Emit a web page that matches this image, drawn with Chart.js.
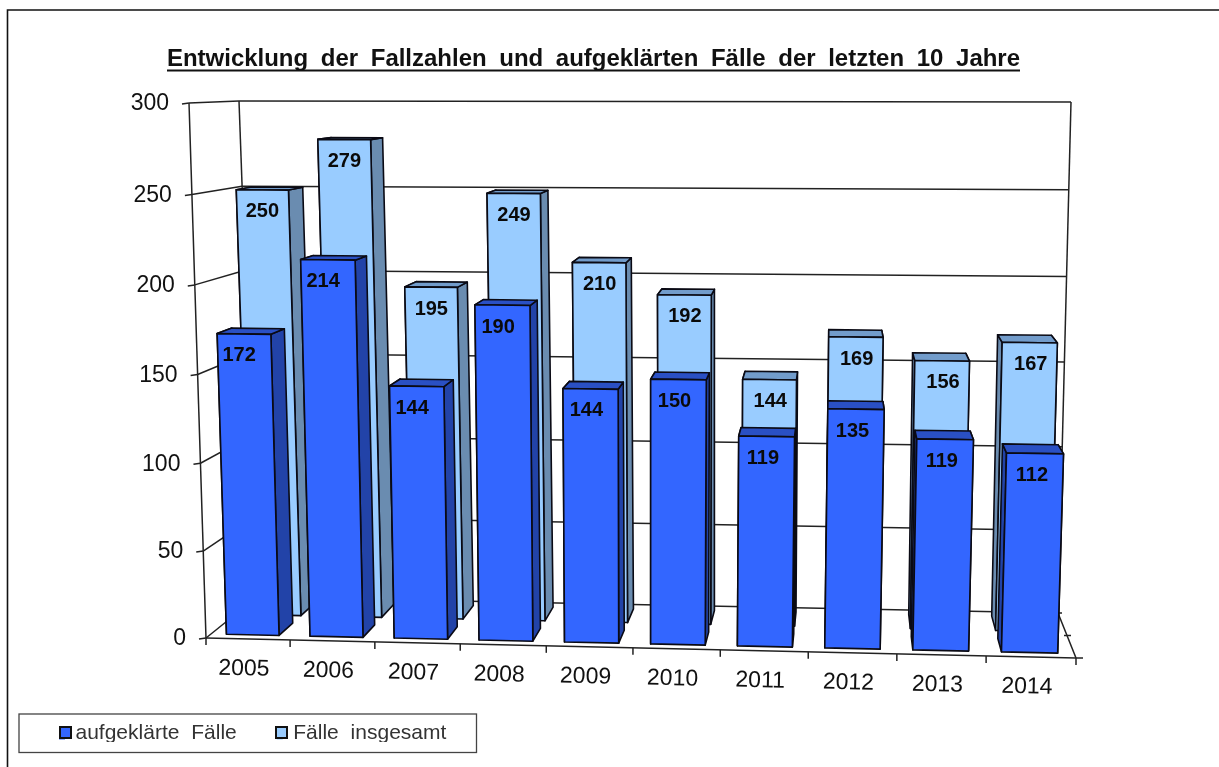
<!DOCTYPE html>
<html lang="de">
<head>
<meta charset="utf-8">
<style>html,body{margin:0;padding:0;background:#fff}canvas{display:block}</style>
<script src="https://cdn.jsdelivr.net/npm/chart.js@4"></script>
</head>
<body>
<div style="width:1219px;height:767px;position:relative"><canvas id="c"></canvas></div>
<script>
const categories = ['2005','2006','2007','2008','2009','2010','2011','2012','2013','2014'];
const solvedCases = [172,214,144,190,144,150,119,135,119,112];
const totalCases = [250,279,195,249,210,192,144,169,156,167];
const titleText = 'Entwicklung der Fallzahlen und aufgeklärten Fälle der letzten 10 Jahre';
const seriesNames = ['aufgeklärte Fälle','Fälle insgesamt'];

// 3D box of the plot: corners of the front and back plane on the page
const box = {
  fbl:[206,638], fbr:[1076,658], ftl:[189,103], ftr:[1093,110],
  bbl:[257,597], bbr:[1058,613], btl:[239,101], btr:[1071,102]
};
const depthOf = [[0.10,0.40],[0.58,0.90]];
const labelShift = [[-5,2],[0,1]];
const faces = [
  {face:'#3366FF', side:'#2243A8', top:'#2A50C4'},
  {face:'#99CCFF', side:'#6A8CB0', top:'#729CCB'}
];
const mix=(a,b,t)=>a+(b-a)*t;
const mix2=(p,q,t)=>[mix(p[0],q[0],t),mix(p[1],q[1],t)];
function project(u0,v,w){
  const u=u0-0.037*u0*(1-u0);
  const vf=v-0.03*v*(1-v), vb=v-0.036*v*(1-v);
  const f=mix2(mix2(box.fbl,box.fbr,u),mix2(box.ftl,box.ftr,u),vf);
  const b=mix2(mix2(box.bbl,box.bbr,u),mix2(box.btl,box.btr,u),vb);
  return mix2(f,b,w);
}
function poly(ctx,pts,fill){
  ctx.beginPath();
  pts.forEach((p,i)=>i?ctx.lineTo(p[0],p[1]):ctx.moveTo(p[0],p[1]));
  ctx.closePath();
  if(fill){ctx.fillStyle=fill;ctx.fill();}
  ctx.stroke();
}
function line(ctx,a,b){ctx.beginPath();ctx.moveTo(a[0],a[1]);ctx.lineTo(b[0],b[1]);ctx.stroke();}

const threeD = {
  id:'threeD',
  afterLayout(chart){
    const t=chart.titleBlock; t.left=167; t.right=1020;
    const l=chart.legend, pad=l.options.labels.padding;
    l.left=59-pad; l.right=1219; l.top=723-pad;
  },
  beforeDraw(chart){
    const ctx=chart.ctx;
    ctx.save();ctx.fillStyle='#fff';ctx.fillRect(0,0,1219,767);ctx.restore();
    ctx.wordSpacing='6px';
    ctx.letterSpacing='0px';
    // outer frame
    ctx.save();ctx.strokeStyle='#111';ctx.lineWidth=1.6;
    ctx.beginPath();ctx.moveTo(7.5,767);ctx.lineTo(7.5,10);ctx.lineTo(1219,10);ctx.stroke();
    // legend box
    ctx.strokeStyle='#444';ctx.lineWidth=1.3;ctx.strokeRect(19,714,457.5,38.5);
    ctx.restore();
  },
  beforeDatasetsDraw(chart){
    const ctx=chart.ctx, y=chart.scales.y, a=chart.chartArea;
    ctx.wordSpacing='0px';ctx.letterSpacing='0px';
    ctx.save();
    ctx.strokeStyle='#222';ctx.lineWidth=1.5;
    // walls and value grid
    y.ticks.forEach(t=>{
      const v=(a.bottom-y.getPixelForValue(t.value))/(a.bottom-a.top);
      const fl=project(0,v,0), bl=project(0,v,1), br=project(1,v,1);
      line(ctx,fl,bl); line(ctx,bl,br); line(ctx,[fl[0]-7,fl[1]+1],fl);
      ctx.fillStyle='#111';ctx.font='23px "Liberation Sans"';ctx.textAlign='right';ctx.textBaseline='middle';
      ctx.fillText(String(t.value),fl[0]-20,fl[1]+1);
    });
    line(ctx,project(0,0,0),project(0,1,0));
    line(ctx,project(0,0,1),project(0,1,1));
    line(ctx,project(1,0,1),project(1,1,1));
    line(ctx,project(1,0,0),project(1,0,1));
    line(ctx,project(0,0,0),project(1,0,0));
    const c=project(1,0,0); line(ctx,c,[c[0]+7,c[1]]);
    [0.5,1].forEach(w=>{const m=project(1,0,w);line(ctx,[m[0]-3,m[1]],[m[0]+4,m[1]]);});
    // category ticks and labels
    const n=categories.length, angle=Math.atan2(box.fbr[1]-box.fbl[1],box.fbr[0]-box.fbl[0]);
    for(let i=0;i<=n;i++){const p=project(i/n,0,0);line(ctx,p,[p[0],p[1]+7]);}
    const x=chart.scales.x;
    categories.forEach((lab,i)=>{
      const u=(x.getPixelForValue(i)-a.left)/(a.right-a.left);
      const p=project(u,0,0);
      ctx.save();ctx.translate(p[0]-4,p[1]+30);ctx.rotate(angle);
      ctx.fillStyle='#111';ctx.font='23px "Liberation Sans"';ctx.textAlign='center';ctx.textBaseline='middle';
      ctx.fillText(lab,0,0);ctx.restore();
    });
    ctx.restore();
  },
  beforeDatasetDraw(chart,args){
    const ctx=chart.ctx, a=chart.chartArea, i=args.index, col=faces[i], [w1,w2]=depthOf[i];
    const W=a.right-a.left, H=a.bottom-a.top;
    ctx.save();
    ctx.strokeStyle='#0a0a14';ctx.lineWidth=1.6;ctx.lineJoin='round';
    args.meta.data.forEach((el,k)=>{
      const u0=(el.x-el.width/2-a.left)/W, u1=(el.x+el.width/2-a.left)/W;
      const v=(a.bottom-el.y)/H, v0=(a.bottom-el.base)/H;
      const P=project;
      poly(ctx,[P(u0,v0,w1),P(u0,v,w1),P(u0,v,w2),P(u0,v0,w2)],col.side);
      poly(ctx,[P(u1,v0,w1),P(u1,v,w1),P(u1,v,w2),P(u1,v0,w2)],col.side);
      poly(ctx,[P(u0,v,w1),P(u1,v,w1),P(u1,v,w2),P(u0,v,w2)],col.top);
      poly(ctx,[P(u0,v0,w1),P(u1,v0,w1),P(u1,v,w1),P(u0,v,w1)],col.face);
      const um=(u0+u1)/2, c=P(um,v,w1), ls=labelShift[i];
      ctx.fillStyle='#0a0a0a';ctx.font='bold 20px "Liberation Sans"';ctx.textAlign='center';ctx.textBaseline='middle';
      ctx.fillText(String(chart.data.datasets[i].data[k]),c[0]+ls[0]+ls[1]*um,c[1]+22);
    });
    ctx.restore();
    return false;
  },
  afterDraw(chart){
    const ctx=chart.ctx;
    ctx.save();
    // title underline
    ctx.strokeStyle='#111';ctx.lineWidth=2.2;
    ctx.beginPath();ctx.moveTo(167,70.5);ctx.lineTo(1020,70.5);ctx.stroke();
    // legend swatches
    ctx.lineWidth=2;ctx.strokeStyle='#111';
    [[60,'#3366FF'],[276,'#99CCFF']].forEach(s=>{
      ctx.fillStyle=s[1];ctx.fillRect(s[0],727,11,11);ctx.strokeRect(s[0],727,11,11);
    });
    ctx.restore();
  }
};

new Chart(document.getElementById('c'),{
  type:'bar',
  data:{labels:categories,datasets:[
    {label:seriesNames[0],data:solvedCases,backgroundColor:faces[0].face,borderColor:'#111'},
    {label:seriesNames[1],data:totalCases,backgroundColor:faces[1].face,borderColor:'#111'}
  ]},
  plugins:[threeD],
  options:{
    responsive:true,maintainAspectRatio:false,animation:false,
    devicePixelRatio:1,
    layout:{padding:{left:206,right:143,top:0,bottom:25}},
    datasets:{bar:{grouped:false,categoryPercentage:0.63,barPercentage:1,borderWidth:0}},
    scales:{
      x:{display:true,grid:{display:false},border:{display:false},ticks:{display:false}},
      y:{min:0,max:300,grid:{display:false},border:{display:false},ticks:{display:false,stepSize:50}}
    },
    plugins:{
      title:{display:true,text:titleText,color:'#111',align:'center',
        font:{family:'"Liberation Sans"',size:24,weight:'bold'},padding:{top:45,bottom:29}},
      legend:{display:true,position:'bottom',align:'start',
        labels:{boxWidth:6,boxHeight:12,padding:40,color:'#333',font:{family:'"Liberation Sans"',size:21}}},
      tooltip:{enabled:false}
    }
  }
});
</script>
</body>
</html>
